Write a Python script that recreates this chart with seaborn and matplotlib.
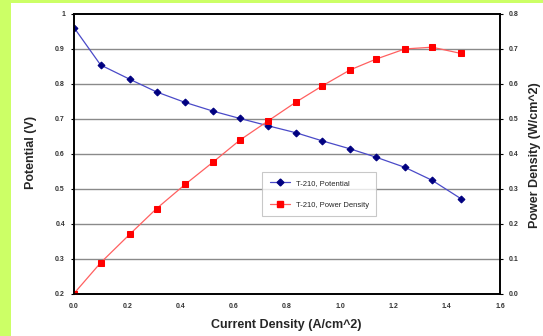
import matplotlib
matplotlib.use("Agg")
import matplotlib.pyplot as plt
import seaborn as sns
import pandas as pd
from matplotlib.lines import Line2D
from matplotlib.patches import Rectangle

current = [0.0, 0.10, 0.21, 0.31, 0.417, 0.522, 0.623, 0.729, 0.834, 0.932, 1.037, 1.135, 1.243, 1.345, 1.454]
potential = [0.961, 0.854, 0.813, 0.777, 0.747, 0.722, 0.701, 0.680, 0.660, 0.637, 0.614, 0.590, 0.561, 0.524, 0.471]
power = [0.0, 0.088, 0.170, 0.243, 0.312, 0.376, 0.439, 0.494, 0.548, 0.594, 0.640, 0.671, 0.700, 0.705, 0.687]

df = pd.DataFrame({"current": current, "potential": potential, "power": power})

sns.set_style("white")
plt.rcParams['font.family'] = ['Liberation Sans', 'DejaVu Sans']

W, H = 543, 336
fig = plt.figure(figsize=(W / 100, H / 100), dpi=100, facecolor="#ccff66")
fig.patches.append(Rectangle((11 / W, 0), 1 - 11 / W, 1 - 3 / H, transform=fig.transFigure,
                             facecolor="white", edgecolor="none", zorder=-5))

left, right, top, bottom = 74, 500, 14, 293.5
ax = fig.add_axes([left / W, 1 - bottom / H, (right - left) / W, (bottom - top) / H])
ax.set_facecolor("white")
ax2 = ax.twinx()

sns.lineplot(data=df, x="current", y="potential", ax=ax, color="#4a4ac8", lw=0.9,
             marker="D", markersize=3.5, markerfacecolor="#000080", markeredgecolor="#000080")
sns.lineplot(data=df, x="current", y="power", ax=ax2, color="#ff6060", lw=0.9,
             marker="s", markersize=4.5, markerfacecolor="#ff0000", markeredgecolor="#ff0000")

ax.set_xlim(0, 1.6)
ax.set_ylim(0.2, 1.0)
ax2.set_ylim(0, 0.8)

xt = [0.0, 0.2, 0.4, 0.6, 0.8, 1.0, 1.2, 1.4, 1.6]
yt = [0.2, 0.3, 0.4, 0.5, 0.6, 0.7, 0.8, 0.9, 1.0]
y2t = [0.0, 0.1, 0.2, 0.3, 0.4, 0.5, 0.6, 0.7, 0.8]
ax.set_xticks(xt)
ax.set_xticklabels([f"{v:.1f}" for v in xt])
ax.set_yticks(yt)
ax.set_yticklabels(["0.2", "0.3", "0.4", "0.5", "0.6", "0.7", "0.8", "0.9", "1"])
ax2.set_yticks(y2t)
ax2.set_yticklabels([f"{v:.1f}" for v in y2t])

for a in (ax, ax2):
    a.tick_params(axis="both", labelsize=5, length=2.5, width=0.8, color="black", pad=4)
    for s in a.spines.values():
        s.set_color("black")
        s.set_linewidth(1.2)
for lbl in ax.get_xticklabels() + ax.get_yticklabels() + ax2.get_yticklabels():
    lbl.set_fontweight("bold")
    lbl.set_color("#333333")

ax.grid(False)
ax2.grid(False)
for v in yt[1:-1]:
    ax.axhline(v, color="#8a8a8a", lw=1.0, zorder=0)

ax.set_xlabel("")
ax.set_ylabel("")
ax2.set_ylabel("")
fig.text(286 / W, 1 - 325 / H, "Current Density (A/cm^2)", ha="center", va="center",
         fontsize=9, fontweight="bold")
fig.text(31 / W, 1 - 152 / H, "Potential (V)", ha="center", va="center", rotation=90,
         fontsize=9, fontweight="bold")
fig.text(535 / W, 1 - 155 / H, "Power Density (W/cm^2)", ha="center", va="center", rotation=90,
         fontsize=9, fontweight="bold")

handles = [
    Line2D([], [], color="#4a4ac8", lw=0.9, marker="D", markersize=3.5,
           markerfacecolor="#000080", markeredgecolor="#000080"),
    Line2D([], [], color="#ff6060", lw=0.9, marker="s", markersize=4.5,
           markerfacecolor="#ff0000", markeredgecolor="#ff0000"),
]
if ax.get_legend():
    ax.get_legend().remove()
if ax2.get_legend():
    ax2.get_legend().remove()
leg = ax2.legend(handles, ["T-210, Potential", "T-210, Power Density"],
                 loc="upper left", bbox_to_anchor=((262 - left) / (right - left), (bottom - 172) / (bottom - top)),
                 fontsize=5.5, frameon=True, fancybox=False, handlelength=2.6,
                 labelspacing=1.9, borderpad=1.0, borderaxespad=0)
leg.get_frame().set_edgecolor("#bbbbbb")
leg.get_frame().set_linewidth(0.8)

fig.savefig("out.png", dpi=100, facecolor=fig.get_facecolor())
